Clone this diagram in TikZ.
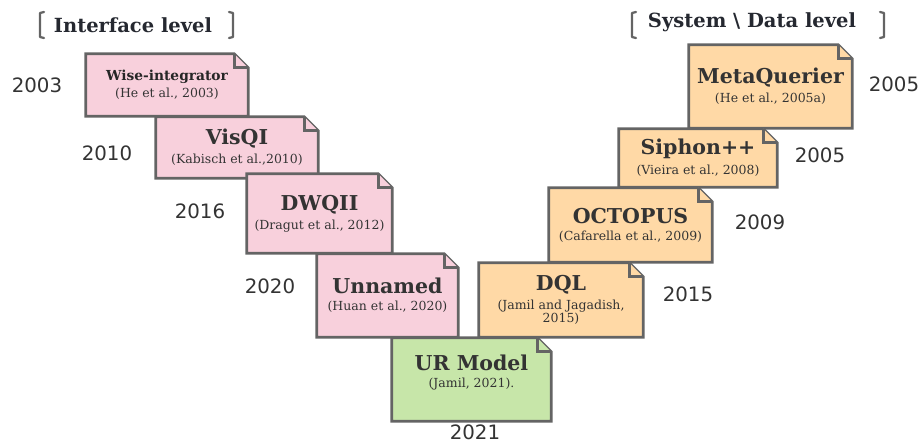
\documentclass[tikz,border=0pt]{standalone}
\usepackage{fontspec}
\setmainfont{DejaVu Serif}
\newfontfamily\yearfont{DejaVu Sans}
\usetikzlibrary{backgrounds}
\definecolor{pinkf}{HTML}{F8D0DC}
\definecolor{orangef}{HTML}{FFD9A6}
\definecolor{greenf}{HTML}{C7E6A9}
\definecolor{edgec}{HTML}{646464}
\definecolor{txtc}{HTML}{333333}
\definecolor{headc}{HTML}{252830}
\newcommand{\ttl}[1]{{\fontsize{20.5}{22}\selectfont\bfseries #1}}
\newcommand{\cit}[1]{{\fontsize{12.5}{16}\selectfont #1}}
\newcommand{\dogear}[2]{%
  \draw[boxline, fill=#2] (#1.south west) -- (#1.north west) -- ([xshift=-14pt]#1.north east)
     -- ([yshift=-14pt]#1.north east) -- (#1.south east) -- cycle;
  \draw[boxline, fill=#2] ([xshift=-14pt]#1.north east) -- ([xshift=-14pt,yshift=-14pt]#1.north east)
     -- ([yshift=-14pt]#1.north east);
}
\tikzset{
  boxline/.style={draw=edgec, line width=2.8pt, line join=miter},
  notebox/.style={inner sep=0pt, align=center, text=txtc},
  year/.style={font=\yearfont\fontsize{19.8}{21}\selectfont, text=txtc, inner sep=0pt},
  header/.style={font=\fontsize{19.5}{22}\selectfont\bfseries, text=headc, inner sep=0pt},
  brack/.style={draw=edgec, line width=2.2pt, line cap=round, line join=round},
}
\begin{document}
\begin{tikzpicture}[x=1pt, y=-1pt]
\useasboundingbox (0,0) rectangle (922,443);
% headers
\node[header] (hint) at (133,25) {Interface level};
\node[header] (hsys) at (752,22) {System \textbackslash{} Data level};
\draw[brack] (44,12) -- (40,13) -- (40,37) -- (44,38);
\draw[brack] (229,12) -- (233,13) -- (233,37) -- (229,38);
\draw[brack] (636,12) -- (632,13) -- (632,37) -- (636,38);
\draw[brack] (880,12) -- (884,13) -- (884,37) -- (880,38);
% boxes
\node[notebox, minimum width=162pt, minimum height=62pt] (wise) at (167,85)
  {{\fontsize{13.8}{16}\selectfont\bfseries\color{black!85} Wise-integrator}\\[3pt]\cit{(He et al., 2003)}};
\node[notebox, minimum width=162pt, minimum height=61pt] (visqi) at (237,147.5)
  {\ttl{VisQI}\\[5pt]\cit{(Kabisch et al.,2010)}};
\node[notebox, minimum width=145pt, minimum height=79pt] (dwqii) at (319.5,213.5)
  {\ttl{DWQII}\\[5pt]\cit{(Dragut et al., 2012)}};
\node[notebox, minimum width=141pt, minimum height=83pt] (unnamed) at (387.5,295.5)
  {\ttl{Unnamed}\\[5pt]\cit{(Huan et al., 2020)}};
\node[notebox, minimum width=159pt, minimum height=83pt] (ur) at (471.5,379.5)
  {\ttl{UR Model}\\[5pt]\cit{(Jamil, 2021).}\\[4pt]};
\node[notebox, minimum width=163pt, minimum height=83pt] (meta) at (770.5,86.5)
  {\ttl{MetaQuerier}\\[5pt]\cit{(He et al., 2005a)}};
\node[notebox, minimum width=158pt, minimum height=58pt] (siphon) at (698,158)
  {\ttl{Siphon++}\\[5pt]\cit{(Vieira et al., 2008)}};
\node[notebox, minimum width=163pt, minimum height=74pt] (octopus) at (630.5,225)
  {\ttl{OCTOPUS}\\[5pt]\cit{(Cafarella et al., 2009)}};
\node[notebox, minimum width=164pt, minimum height=74pt] (dql) at (561,300)
  {\ttl{DQL}\\[5pt]\cit{(Jamil and Jagadish,}\\\cit{2015)}};
\begin{scope}[on background layer]
\dogear{wise}{pinkf}
\dogear{visqi}{pinkf}
\dogear{dwqii}{pinkf}
\dogear{unnamed}{pinkf}
\dogear{meta}{orangef}
\dogear{siphon}{orangef}
\dogear{octopus}{orangef}
\dogear{dql}{orangef}
\dogear{ur}{greenf}
\end{scope}
% years
\node[year] (y2003) at (37,85) {2003};
\node[year] (y2010) at (107,153) {2010};
\node[year] (y2016) at (200,211) {2016};
\node[year] (y2020) at (270,286) {2020};
\node[year] (y2021) at (475,432) {2021};
\node[year] (y2005a) at (894,84) {2005};
\node[year] (y2005b) at (820,155) {2005};
\node[year] (y2009) at (760,222) {2009};
\node[year] (y2015) at (688,294) {2015};
\end{tikzpicture}
\end{document}
